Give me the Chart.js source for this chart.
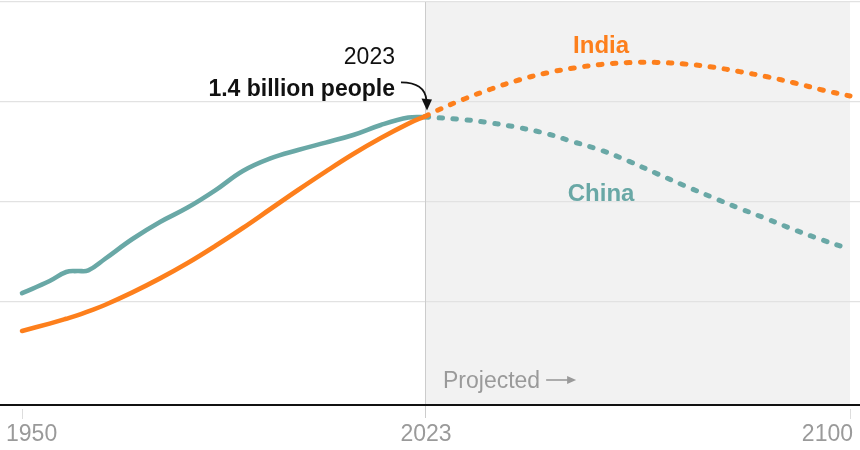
<!DOCTYPE html>
<html>
<head>
<meta charset="utf-8">
<script src="https://cdn.jsdelivr.net/npm/chart.js@4"></script>
<style>
  html, body { margin: 0; padding: 0; background: #fff; }
  #wrap { width: 860px; height: 450px; position: relative; }
</style>
</head>
<body>
<div id="wrap"><canvas id="c" width="860" height="450"></canvas></div>
<script>
// ---- data (billions of people) ----
const histYears = [1950,1955,1958,1960,1962,1965,1970,1975,1980,1985,1990,1995,2000,2005,2010,2015,2020,2023];
const chinaHist = [0.544,0.605,0.650,0.655,0.658,0.715,0.815,0.900,0.972,1.058,1.155,1.218,1.260,1.297,1.335,1.385,1.422,1.425];
const indiaHist = [0.355,0.392,0.416,0.433,0.453,0.485,0.548,0.618,0.695,0.780,0.870,0.965,1.060,1.152,1.240,1.320,1.392,1.428];
const projYears = [2023,2025,2030,2035,2040,2045,2050,2055,2060,2065,2070,2075,2080,2085,2090,2095,2100];
const chinaProj = [1.425,1.422,1.412,1.395,1.372,1.342,1.300,1.258,1.203,1.142,1.082,1.024,0.968,0.915,0.860,0.810,0.764];
const indiaProj = [1.428,1.455,1.514,1.565,1.610,1.645,1.670,1.688,1.697,1.698,1.690,1.675,1.652,1.626,1.595,1.560,1.530];
const xTickLabels = [1950, 2023, 2100];
const yGridValues = [0.5, 1.0, 1.5, 2.0];
const projStart = 2023, projEnd = 2100;
const seriesNames = ['India', 'China'];
const calloutYear = '2023';
const calloutText = '1.4 billion people';
const projectedText = 'Projected';

const ORANGE = '#fd7f1c';
const TEAL = '#69a8a6';
const FONT = "'Liberation Sans', Arial, sans-serif";

const pts = (xs, ys) => xs.map((x, i) => ({ x, y: ys[i] }));

const solid = (color, data) => ({
  data, borderColor: color, borderWidth: 4.6, pointRadius: 0,
  tension: 0.4, borderCapStyle: 'round', borderJoinStyle: 'round', fill: false
});
const dotted = (color, data) => ({
  data, borderColor: color, borderWidth: 5, pointRadius: 0,
  tension: 0.4, borderCapStyle: 'round', borderDash: [3.5, 10.5], fill: false
});

const decor = {
  id: 'decor',
  beforeDraw(chart) {
    const { ctx, chartArea: a, scales: { x, y } } = chart;
    ctx.save();
    ctx.fillStyle = '#f2f2f2';
    const x0 = x.getPixelForValue(projStart), x1 = x.getPixelForValue(projEnd);
    ctx.fillRect(x0, a.top, x1 - x0, a.bottom - a.top);
    ctx.restore();
  },
  beforeDatasetsDraw(chart) {
    const { ctx, chartArea: a, scales: { x, y } } = chart;
    ctx.save();
    ctx.strokeStyle = '#cccccc';
    ctx.lineWidth = 1;
    const xd = Math.round(x.getPixelForValue(projStart)) + 0.5;
    ctx.beginPath(); ctx.moveTo(xd, a.top); ctx.lineTo(xd, a.bottom + 13); ctx.stroke();
    [xTickLabels[0], xTickLabels[2]].forEach(v => {
      const px = Math.round(x.getPixelForValue(v)) + 0.5;
      ctx.strokeStyle = '#dddddd';
      ctx.beginPath(); ctx.moveTo(px, a.bottom + 4); ctx.lineTo(px, a.bottom + 14); ctx.stroke();
    });
    ctx.strokeStyle = '#111';
    ctx.lineWidth = 2;
    ctx.beginPath(); ctx.moveTo(0, a.bottom); ctx.lineTo(chart.width, a.bottom); ctx.stroke();
    ctx.restore();
  },
  afterDraw(chart) {
    const { ctx, chartArea: a, scales: { x, y } } = chart;
    ctx.save();
    ctx.fillStyle = '#9a9a9a';
    ctx.font = `23px ${FONT}`;
    ctx.textBaseline = 'alphabetic';
    xTickLabels.forEach((v, i) => {
      const px = x.getPixelForValue(v);
      let tx = px;
      if (i === 0) { ctx.textAlign = 'left'; tx = px - 16; }
      else if (i === xTickLabels.length - 1) { ctx.textAlign = 'right'; tx = px + 3; }
      else { ctx.textAlign = 'center'; tx = px + 1; }
      ctx.fillText(String(v), tx, a.bottom + 36);
    });
    const px0 = x.getPixelForValue(projStart);
    ctx.textAlign = 'left';
    ctx.fillStyle = '#9a9a9a';
    ctx.font = `23px ${FONT}`;
    ctx.fillText(projectedText, px0 + 18, a.bottom - 17);
    const ax = px0 + 18 + ctx.measureText(projectedText).width + 6;
    const ay = a.bottom - 25;
    ctx.strokeStyle = '#9a9a9a';
    ctx.lineWidth = 1.6;
    ctx.beginPath(); ctx.moveTo(ax, ay); ctx.lineTo(ax + 27, ay); ctx.stroke();
    ctx.fillStyle = '#9a9a9a';
    ctx.beginPath(); ctx.moveTo(ax + 30, ay); ctx.lineTo(ax + 21, ay - 4); ctx.lineTo(ax + 21, ay + 4); ctx.closePath(); ctx.fill();

    ctx.textAlign = 'center';
    ctx.font = `bold 24px ${FONT}`;
    ctx.fillStyle = ORANGE;
    ctx.fillText(seriesNames[0], x.getPixelForValue(2054.9), y.getPixelForValue(1.745));
    ctx.fillStyle = TEAL;
    ctx.fillText(seriesNames[1], x.getPixelForValue(2054.9), y.getPixelForValue(1.005));

    const cx = x.getPixelForValue(2023), cy = y.getPixelForValue(indiaHist[indiaHist.length - 1]);
    ctx.textAlign = 'right';
    ctx.fillStyle = '#111';
    ctx.font = `23px ${FONT}`;
    ctx.fillText(calloutYear, cx - 30, cy - 52);
    ctx.font = `bold 23px ${FONT}`;
    ctx.fillText(calloutText, cx - 30, cy - 20);
    ctx.strokeStyle = '#111';
    ctx.lineWidth = 1.8;
    ctx.beginPath();
    ctx.moveTo(cx - 24, cy - 34);
    ctx.quadraticCurveTo(cx, cy - 34, cx + 1.5, cy - 16);
    ctx.stroke();
    ctx.fillStyle = '#111';
    ctx.beginPath();
    ctx.moveTo(cx + 2, cy - 6);
    ctx.lineTo(cx - 3.5, cy - 18);
    ctx.lineTo(cx + 7, cy - 17);
    ctx.closePath(); ctx.fill();
    ctx.restore();
  }
};

new Chart(document.getElementById('c'), {
  type: 'line',
  data: {
    datasets: [
      dotted(ORANGE, pts(projYears, indiaProj)),
      solid(ORANGE, pts(histYears, indiaHist)),
      dotted(TEAL, pts(projYears, chinaProj)),
      solid(TEAL, pts(histYears, chinaHist))
    ]
  },
  options: {
    responsive: false,
    animation: false,
    devicePixelRatio: 1,
    layout: { padding: { top: 2, bottom: 45, left: 0, right: 0 } },
    plugins: { legend: { display: false }, tooltip: { enabled: false } },
    scales: {
      x: { type: 'linear', min: 1946.01, max: 2101.81, display: false },
      y: {
        type: 'linear', min: -0.015, max: 2.0,
        display: true,
        afterBuildTicks: (s) => { s.ticks = yGridValues.map(v => ({ value: v })); },
        afterFit: (s) => { s.width = 0; },
        ticks: { display: false },
        grid: { color: '#e2e2e2', lineWidth: 1.2, drawTicks: false },
        border: { display: false }
      }
    }
  },
  plugins: [decor]
});
</script>
</body>
</html>
